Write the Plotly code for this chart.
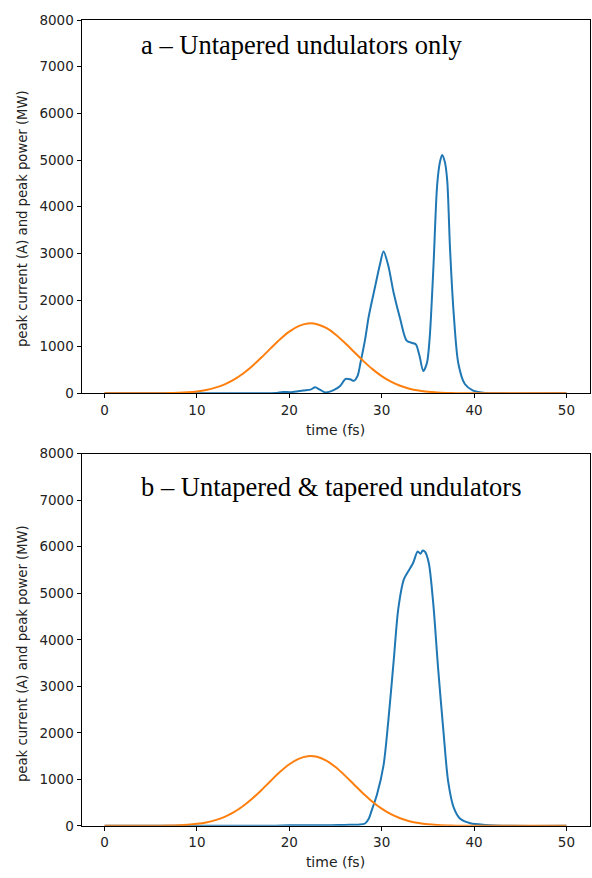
import plotly.graph_objects as go

# ---- data ----
t_current = [0, 2, 4, 6, 7, 8, 9, 10, 11, 12, 13, 14, 15, 16, 17, 18, 19, 20, 21, 22,
             23, 24, 25, 26, 27, 28, 29, 30, 31, 32, 33, 34, 35, 36, 37, 38, 40, 44, 50]
current = [0, 0, 0, 1, 5, 12, 23, 42, 73, 122, 194, 294, 426, 587, 772, 969, 1160, 1324, 1441, 1497,
           1483, 1401, 1263, 1085, 890, 696, 519, 369, 250, 162, 100, 59, 33, 18, 9, 4, 1, 0, 0]

t_power_a = [0, 10, 17, 18.5, 19.3, 20.2, 21.5, 22.3, 22.8, 23.3, 23.9, 24.8, 25.5, 26.1, 26.6, 27.0,
             27.4, 27.7, 28.2, 28.6, 29.3, 29.8, 30.2, 30.7, 31.3, 32.0, 32.7, 33.3, 33.7, 34.1,
             34.5, 34.9, 35.2, 35.6, 36.0, 36.3, 36.55, 36.85, 37.1, 37.4, 37.8, 38.3, 39.0, 39.9,
             41.0, 43.0, 50]
power_a = [0, 0, 0, 5, 30, 25, 60, 80, 130, 80, 20, 70, 160, 310, 300, 270,
           380, 650, 1150, 1650, 2300, 2750, 3040, 2750, 2150, 1600, 1130, 1080, 1050, 800,
           480, 650, 1200, 2700, 4450, 4950, 5110, 4950, 4550, 3100, 1700, 640, 200, 60,
           15, 0, 0]

t_power_b = [0, 10, 18, 20, 22, 24, 26, 27.5, 28.2, 28.6, 28.9, 29.5, 30.2, 30.7, 31.3, 31.8,
             32.4, 32.9, 33.4, 33.9, 34.2, 34.45, 34.7, 35.1, 35.6, 36.1, 36.7, 37.2, 37.8,
             38.5, 39.6, 41.2, 44.0, 50]
power_b = [0, 0, 0, 10, 15, 10, 20, 25, 50, 150, 320, 680, 1300, 2220, 3550, 4670,
           5300, 5480, 5650, 5900, 5850, 5920, 5890, 5650, 4740, 3410, 2000, 950, 390,
           150, 55, 20, 0, 0]

x_ticks = [0, 10, 20, 30, 40, 50]
y_ticks = [0, 1000, 2000, 3000, 4000, 5000, 6000, 7000, 8000]

title_a = "a \u2013 Untapered undulators only"
title_b = "b \u2013 Untapered & tapered undulators"
x_label = "time (fs)"
y_label = "peak current (A) and peak power (MW)"

BLUE = "#1f77b4"
ORANGE = "#ff7f0e"

fig = go.Figure()

# panel a
fig.add_trace(go.Scatter(x=t_power_a, y=power_a, mode="lines",
                         line=dict(color=BLUE, width=2, shape="spline", smoothing=0.8),
                         xaxis="x", yaxis="y", showlegend=False))
fig.add_trace(go.Scatter(x=t_current, y=current, mode="lines",
                         line=dict(color=ORANGE, width=2, shape="spline", smoothing=0.8),
                         xaxis="x", yaxis="y", showlegend=False))
# panel b
fig.add_trace(go.Scatter(x=t_power_b, y=power_b, mode="lines",
                         line=dict(color=BLUE, width=2, shape="spline", smoothing=0.8),
                         xaxis="x2", yaxis="y2", showlegend=False))
fig.add_trace(go.Scatter(x=t_current, y=current, mode="lines",
                         line=dict(color=ORANGE, width=2, shape="spline", smoothing=0.8),
                         xaxis="x2", yaxis="y2", showlegend=False))

W, H = 592, 878
xdom = [81.5 / W, 589.5 / W]
ydom_a = [(H - 392.5) / H, (H - 12.3) / H]
ydom_b = [(H - 833) / H, (H - 454) / H]

tickfont = dict(family="DejaVu Sans", size=13.5, color="#222")
xlabfont = dict(family="DejaVu Sans", size=14, color="#222")
ylabfont = dict(family="DejaVu Sans", size=13.2, color="#222")

def xaxis(dom, anchor):
    return dict(domain=dom, anchor=anchor, range=[-2.5, 52.5], tickvals=x_ticks,
                ticks="outside", ticklen=4, tickwidth=1, tickcolor="black",
                showline=True, linecolor="black", linewidth=1, mirror=True,
                showgrid=False, zeroline=False, tickfont=tickfont,
                title=dict(text=x_label, font=xlabfont, standoff=8))

def yaxis(dom, anchor):
    return dict(domain=dom, anchor=anchor, range=[0, 8000], tickvals=y_ticks,
                ticks="outside", ticklen=4, tickwidth=1, tickcolor="black",
                showline=True, linecolor="black", linewidth=1, mirror=True,
                showgrid=False, zeroline=False, tickfont=tickfont)

title_font = dict(family="Liberation Serif", size=26.5, color="black")

fig.update_layout(
    width=W, height=H,
    margin=dict(l=0, r=0, t=0, b=0),
    paper_bgcolor="white", plot_bgcolor="white",
    xaxis=xaxis(xdom, "y"), yaxis=yaxis(ydom_a, "x"),
    xaxis2=xaxis(xdom, "y2"), yaxis2=yaxis(ydom_b, "x2"),
    annotations=[
        dict(text=title_a, xref="paper", yref="paper", x=139 / W, y=(H - 38) / H,
             xanchor="left", yanchor="middle", showarrow=False, font=title_font),
        dict(text=title_b, xref="paper", yref="paper", x=139 / W, y=(H - 488) / H,
             xanchor="left", yanchor="middle", showarrow=False, font=title_font),
        dict(text=y_label, xref="paper", yref="paper", x=22 / W, y=(H - 215) / H,
             xanchor="center", yanchor="middle", textangle=-90, showarrow=False,
             font=ylabfont),
        dict(text=y_label, xref="paper", yref="paper", x=22 / W, y=(H - 658) / H,
             xanchor="center", yanchor="middle", textangle=-90, showarrow=False,
             font=ylabfont),
    ],
)

fig.write_html("out.html")
